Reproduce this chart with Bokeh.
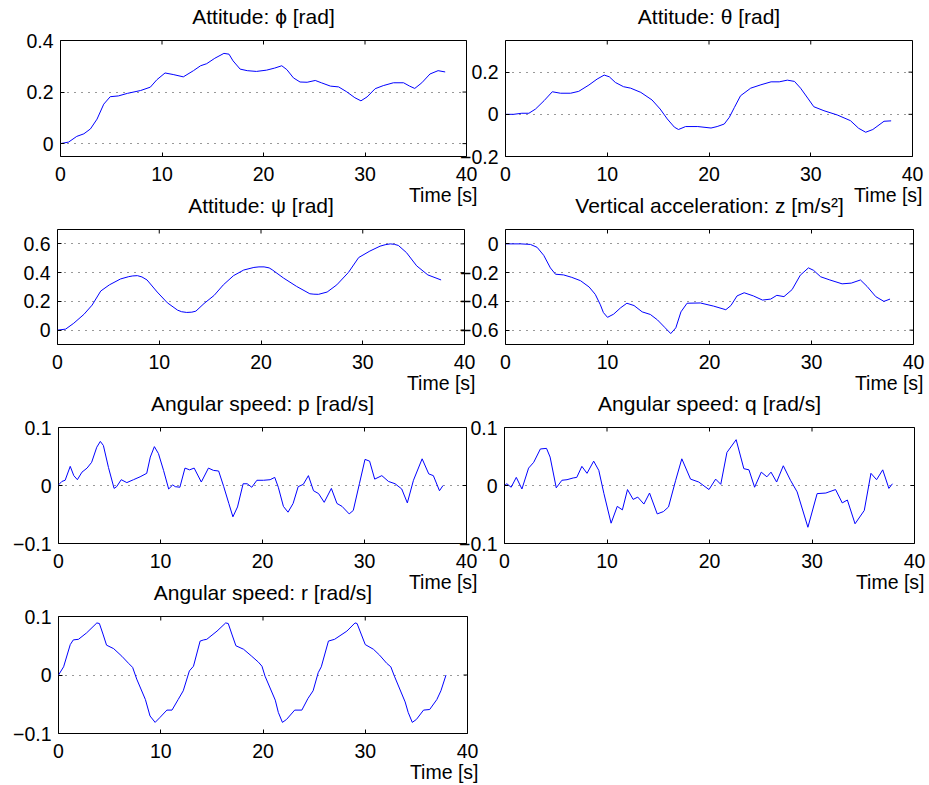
import math
from bokeh.plotting import figure
from bokeh.layouts import column, row
from bokeh.models import Range1d, FixedTicker, CustomJSTickFormatter, Title
from bokeh.embed import file_html
from bokeh.resources import INLINE

# ---------------- data ----------------
x_ticks = [0, 10, 20, 30, 40]

phi_t = [0, 0.8, 1.6, 2.3, 2.95, 3.6, 4.26, 4.9, 5.7, 6.6, 7.9, 8.85, 9.5, 10.3, 11.1,
         12.1, 13.1, 13.8, 14.4, 15.2, 16.1, 16.6, 17.0, 17.7, 18.4, 19.3, 20.3, 21.1, 21.8, 22.3,
         22.95, 23.6, 24.3, 25.1, 25.7, 26.6, 27.4, 28.2, 29.0, 29.6, 30.2, 31.0, 31.8, 32.8, 33.8,
         34.4, 34.9, 35.6, 36.4, 37.2, 37.9]
phi = [0, 0.006, 0.028, 0.038, 0.057, 0.095, 0.153, 0.182, 0.185, 0.195, 0.206, 0.219, 0.248, 0.274, 0.268,
       0.259, 0.283, 0.302, 0.31, 0.331, 0.35, 0.347, 0.321, 0.289, 0.283, 0.28, 0.285, 0.293, 0.302, 0.287,
       0.255, 0.239, 0.238, 0.245, 0.236, 0.223, 0.22, 0.201, 0.178, 0.166, 0.181, 0.213, 0.225, 0.236, 0.236,
       0.223, 0.214, 0.236, 0.27, 0.283, 0.278]

theta_t = [0, 0.8, 1.6, 2.3, 2.95, 3.8, 4.6, 5.4, 6.4, 7.2, 8.2, 9.0, 9.7, 10.2, 10.8,
           11.6, 12.3, 13.3, 14.4, 15.2, 15.9, 16.6, 17.0, 17.7, 18.9, 20.2, 20.8, 21.5, 22.0, 22.5,
           23.1, 24.1, 25.1, 26.1, 26.9, 27.7, 28.4, 29.0, 29.7, 30.3, 31.3, 32.6, 33.9, 34.7, 35.4,
           36.1, 37.2, 37.9]
theta = [0, 0, 0.005, 0.005, 0.025, 0.065, 0.107, 0.1, 0.1, 0.109, 0.139, 0.167, 0.186, 0.178, 0.151,
         0.131, 0.124, 0.104, 0.068, 0.025, -0.022, -0.061, -0.072, -0.058, -0.058, -0.065, -0.058, -0.046, -0.014, 0.033,
         0.088, 0.124, 0.14, 0.154, 0.154, 0.162, 0.156, 0.124, 0.077, 0.036, 0.017, -0.003, -0.03, -0.066, -0.085,
         -0.072, -0.033, -0.031]

psi_t = [0, 0.8, 1.6, 2.6, 3.4, 4.25, 5.1, 6.2, 7.0, 7.4, 7.85, 8.3, 8.8, 9.8, 10.8, 11.8, 12.2, 12.7,
         13.2, 13.6, 14.4, 15.4, 16.3, 17.3, 18.3, 19.3, 19.8, 20.3, 20.8, 21.1, 22.2, 23.5, 24.8, 25.2,
         25.65, 26.5, 27.45, 28.6, 29.6, 30.7, 31.7, 32.2, 32.7, 33.1, 33.5, 34.3, 35.3, 36.4, 37.7]
psi = [0, 0.007, 0.048, 0.11, 0.174, 0.272, 0.315, 0.356, 0.372, 0.377, 0.379, 0.37, 0.349, 0.265, 0.19, 0.139,
       0.128, 0.123, 0.125, 0.132, 0.185, 0.242, 0.315, 0.379, 0.418, 0.436, 0.44, 0.44, 0.433, 0.42, 0.363,
       0.304, 0.253, 0.25, 0.249, 0.265, 0.315, 0.402, 0.505, 0.55, 0.584, 0.594, 0.6, 0.597, 0.589, 0.539,
       0.447, 0.384, 0.349]

z_t = [0, 1.5, 2.45, 3.1, 3.75, 4.4, 4.9, 5.7, 6.5, 7.35, 8.2, 8.8, 9.3, 9.6, 10.0,
       10.6, 11.3, 11.9, 12.6, 13.4, 14.2, 14.9, 15.6, 16.2, 16.7, 17.2, 17.8, 19.1, 20.4, 21.6,
       22.1, 22.7, 23.4, 24.3, 25.2, 26.0, 26.6, 27.3, 28.1, 28.9, 29.7, 30.2, 30.9, 31.8, 33.0,
       33.9, 34.8, 35.45, 36.3, 37.1, 37.7]
z = [0, 0, -0.004, -0.024, -0.08, -0.167, -0.211, -0.216, -0.233, -0.256, -0.3, -0.351, -0.424, -0.478, -0.511,
     -0.489, -0.444, -0.413, -0.429, -0.473, -0.491, -0.529, -0.58, -0.624, -0.584, -0.473, -0.413, -0.411, -0.433, -0.458,
     -0.429, -0.362, -0.34, -0.362, -0.391, -0.384, -0.358, -0.367, -0.318, -0.218, -0.167, -0.184, -0.229, -0.251, -0.278,
     -0.273, -0.251, -0.296, -0.367, -0.4, -0.384]

p_t = [0, 0.33, 0.65, 1.15, 1.5, 1.85, 2.3, 2.8, 3.25, 3.75, 4.1, 4.4, 4.9, 5.45, 5.7,
       6.15, 6.7, 7.35, 8.0, 8.65, 9.0, 9.4, 9.8, 10.3, 10.8, 11.2, 11.45, 11.9, 12.4, 12.85,
       13.3, 14.0, 14.7, 15.2, 15.7, 16.2, 16.7, 17.1, 17.55, 18.1, 18.5, 18.95, 19.45, 20.1, 20.75,
       21.2, 21.55, 22.05, 22.5, 23.0, 23.5, 24.0, 24.5, 25.0, 25.5, 26.05, 26.75, 27.3, 27.8, 28.5,
       28.9, 29.5, 30.05, 30.5, 31.0, 31.7, 32.35, 33.0, 33.65, 34.2, 34.8, 35.65, 36.3, 36.75, 37.35,
       37.7]
p_rate = [0.001, 0.007, 0.009, 0.033, 0.017, 0.01, 0.023, 0.03, 0.04, 0.066, 0.076, 0.069, 0.031, -0.005, -0.002,
          0.01, 0.005, 0.01, 0.015, 0.021, 0.049, 0.067, 0.055, 0.026, -0.006, 0.001, -0.002, -0.003, 0.03, 0.027,
          0.03, 0.006, 0.03, 0.026, 0.025, -0.002, -0.031, -0.054, -0.037, 0.003, 0.003, -0.003, 0.009, 0.009, 0.01,
          0.014, -0.003, -0.036, -0.046, -0.031, -0.002, 0.002, 0.017, -0.009, -0.014, -0.029, -0.005, -0.031, -0.036, -0.049,
          -0.043, 0.003, 0.045, 0.042, 0.011, 0.017, 0.007, 0.003, -0.006, -0.03, 0.009, 0.046, 0.02, 0.017, -0.009,
          0]

q_t = [0, 0.23, 0.65, 1.15, 1.7, 2.35, 2.85, 3.5, 4.1, 4.45, 5.05, 5.6, 6.1, 6.7, 7.05,
       7.55, 8.05, 8.7, 9.2, 9.7, 10.4, 11.0, 11.5, 12.0, 12.55, 13.0, 13.6, 14.15, 14.9, 15.5,
       16.0, 16.7, 17.3, 18.15, 18.95, 19.95, 20.6, 21.1, 21.7, 22.6, 23.35, 23.85, 24.4, 25.05, 25.6,
       26.0, 26.55, 27.2, 27.9, 28.55, 29.6, 30.5, 31.35, 32.3, 32.95, 33.45, 34.2, 35.1, 35.75, 36.3,
       36.9, 37.5, 37.85]
q_rate = [0, 0.003, -0.003, 0.014, -0.006, 0.03, 0.04, 0.063, 0.064, 0.049, -0.004, 0.009, 0.01, 0.013, 0.014,
          0.033, 0.021, 0.042, 0.026, -0.014, -0.065, -0.036, -0.042, -0.007, -0.024, -0.02, -0.032, -0.013, -0.049, -0.045,
          -0.037, 0.009, 0.046, 0.011, 0.006, -0.007, 0.011, 0.002, 0.057, 0.079, 0.029, 0.027, -0.003, 0.023, 0.015,
          0.023, 0.006, 0.034, 0.009, -0.011, -0.072, -0.014, -0.013, -0.007, -0.03, -0.025, -0.066, -0.043, 0.021, 0.01,
          0.027, -0.005, 0.003]

r_t = [0, 0.5, 1.15, 1.45, 1.95, 2.75, 3.75, 4.0, 4.35, 4.7, 5.4, 6.2, 6.85, 7.25, 7.65,
       8.5, 8.95, 9.45, 9.9, 10.6, 11.1, 11.7, 12.2, 12.8, 13.2, 13.85, 14.2, 14.5, 15.5, 16.35,
       16.6, 16.95, 17.35, 18.1, 18.9, 19.55, 19.9, 20.2, 21.2, 21.5, 21.9, 22.3, 23.1, 23.8, 24.4,
       24.9, 25.4, 25.7, 26.4, 27.0, 28.2, 29.0, 29.2, 29.6, 30.0, 30.8, 31.4, 32.1, 32.5, 32.85,
       33.9, 34.2, 34.6, 35.0, 35.7, 36.3, 37.0, 37.4, 37.9]
r_rate = [0, 0.014, 0.052, 0.06, 0.061, 0.072, 0.089, 0.088, 0.07, 0.051, 0.045, 0.032, 0.02, 0.013, -0.007,
          -0.042, -0.07, -0.081, -0.073, -0.06, -0.06, -0.042, -0.027, 0.007, 0.015, 0.058, 0.06, 0.061, 0.075, 0.089,
          0.088, 0.07, 0.05, 0.044, 0.032, 0.022, 0.015, -0.002, -0.043, -0.064, -0.081, -0.076, -0.06, -0.06, -0.04,
          -0.027, 0.004, 0.014, 0.058, 0.061, 0.075, 0.089, 0.088, 0.07, 0.052, 0.044, 0.034, 0.02, 0.014, -0.002,
          -0.046, -0.064, -0.081, -0.076, -0.06, -0.059, -0.042, -0.027, 0]

titles = ["Attitude: \u03d5 [rad]", "Attitude: \u03b8 [rad]", "Attitude: \u03c8 [rad]",
          "Vertical acceleration: z [m/s\u00b2]", "Angular speed: p [rad/s]",
          "Angular speed: q [rad/s]", "Angular speed: r [rad/s]"]
y_ranges = [(-0.05, 0.4), (-0.2, 0.35), (-0.1, 0.7), (-0.7, 0.1), (-0.1, 0.1), (-0.1, 0.1), (-0.1, 0.1)]
y_ticks = [[0, 0.2, 0.4], [-0.2, 0, 0.2], [0, 0.2, 0.4, 0.6], [-0.6, -0.4, -0.2, 0],
           [-0.1, 0, 0.1], [-0.1, 0, 0.1], [-0.1, 0, 0.1]]
x_label = "Time [s]"

# ---------------- styling / layout ----------------
FONT = "Liberation Sans"
TICK_FS = "19.5px"
TITLE_FS = "21px"
LINE_COLOR = "#0000ff"


def fmt():
    return CustomJSTickFormatter(code="const v = Math.round(tick*1000)/1000; "
                                      "return v < 0 ? '\\u2212' + String(-v) : String(v);")


def make_panel(title, t, y, yr, yt, width, height, borders, margin, xlab_shift):
    left, right, top, bottom = borders
    p = figure(width=width, height=height, x_range=Range1d(0, 40), y_range=Range1d(*yr),
               output_backend="svg", toolbar_location=None, tools="",
               min_border_left=left, min_border_right=right,
               min_border_top=top, min_border_bottom=bottom,
               border_fill_color=None, background_fill_color="white",
               outline_line_color="black", outline_line_width=1, outline_line_alpha=1.0,
               margin=margin)
    p.title.text = title
    p.title.text_font = FONT
    p.title.text_font_size = TITLE_FS
    p.title.text_font_style = "normal"
    p.title.text_color = "black"
    p.title.align = "center"
    p.title.standoff = 25

    xa = p.xaxis[0]
    ya = p.yaxis[0]
    for ax in (xa, ya):
        ax.axis_line_color = None
        ax.major_tick_in = 4
        ax.major_tick_out = 0
        ax.major_tick_line_color = "black"
        ax.minor_tick_line_color = None
        ax.major_label_text_font = FONT
        ax.major_label_text_font_size = TICK_FS
        ax.major_label_text_color = "black"
        ax.formatter = fmt()
    xa.ticker = FixedTicker(ticks=x_ticks)
    ya.ticker = FixedTicker(ticks=yt)
    xa.major_label_standoff = 10
    ya.major_label_standoff = 7

    # x-axis label, right aligned under the axis end
    p.add_layout(Title(text=x_label, align="right", offset=-xlab_shift, standoff=-4,
                       text_font=FONT, text_font_size=TICK_FS, text_font_style="normal",
                       text_color="black"), "below")

    p.xgrid.visible = False
    p.ygrid.ticker = FixedTicker(ticks=yt)
    p.ygrid.grid_line_color = "black"
    p.ygrid.grid_line_dash = "1 6"
    p.ygrid.grid_line_width = 1
    p.ygrid.grid_line_alpha = 0.8

    # inward tick marks on the top and right edges (half of each dash is clipped by the frame)
    p.scatter(x=x_ticks, y=[yr[1]] * len(x_ticks), marker="dash", angle=math.pi / 2,
              size=8, line_color="black", line_width=1)
    p.scatter(x=[40] * len(yt), y=yt, marker="dash", size=8, line_color="black", line_width=1)

    p.line(t, y, line_color=LINE_COLOR, line_width=1)
    return p


series = [(phi_t, phi), (theta_t, theta), (psi_t, psi), (z_t, z),
          (p_t, p_rate), (q_t, q_rate), (r_t, r_rate)]
# width, height, (left, right, top, bottom) borders, css margin, x-label shift
geo = [
    (485, 226, (60, 19, 56, 54), (0, 0, 0, 0), 11),
    (489, 226, (65, 17, 56, 54), (0, 0, 0, -45), 10),
    (485, 229, (57, 21, 56, 58), (0, 0, 0, 0), 11),
    (489, 229, (65, 16, 55, 55), (0, 0, 0, -45), 10),
    (485, 227, (58, 19, 56, 55), (0, 0, 0, 0), 11),
    (489, 227, (64, 15, 56, 55), (0, 0, 0, -45), 10),
    (485, 225, (58, 18, 56, 52), (0, 0, 0, 0), 11),
]

panels = []
for i in range(7):
    t, y = series[i]
    w, h, b, m, s = geo[i]
    panels.append(make_panel(titles[i], t, y, y_ranges[i], y_ticks[i], w, h, b, m, s))

r1 = row(panels[0], panels[1], margin=(-16, 0, 0, 0))
r2 = row(panels[2], panels[3], margin=(-37, 0, 0, 0))
r3 = row(panels[4], panels[5], margin=(-31, 0, 0, 0))
r4 = row(panels[6], margin=(-38, 0, 0, 0))
p = column(r1, r2, r3, r4)

open("out.html", "w", encoding="utf-8").write(file_html(p, INLINE))
